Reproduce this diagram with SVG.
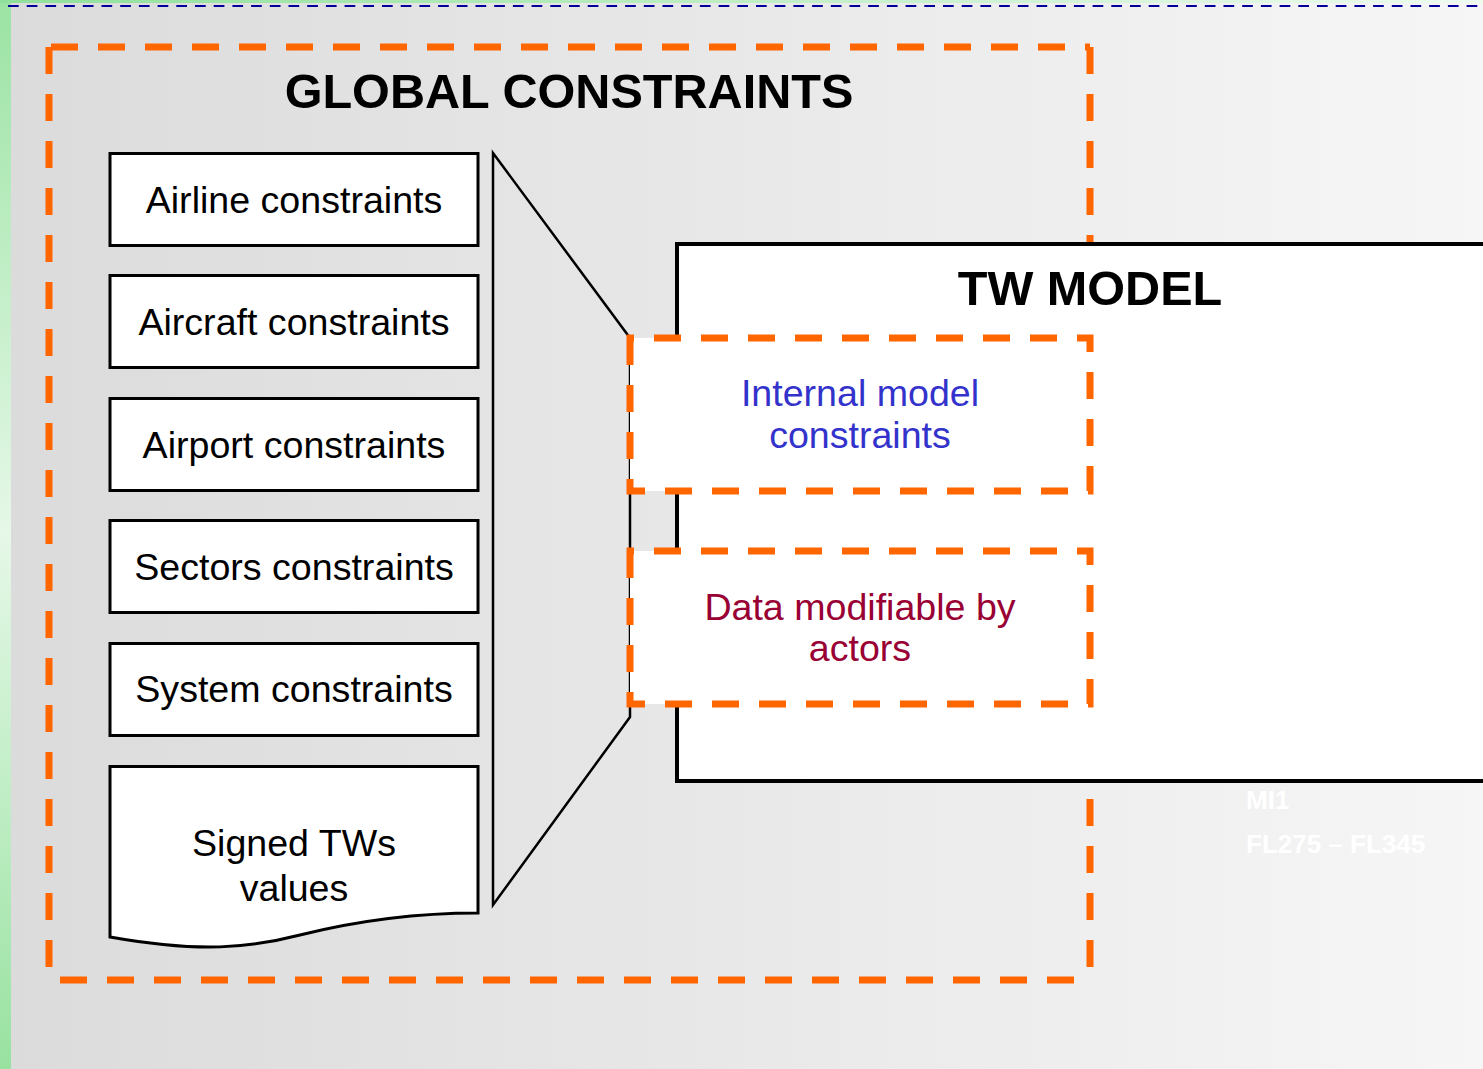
<svg xmlns="http://www.w3.org/2000/svg" width="1483" height="1069" viewBox="0 0 1483 1069">
<defs>
<linearGradient id="bg" x1="0" y1="0" x2="1" y2="0">
<stop offset="0" stop-color="#dbdbdb"/>
<stop offset="1" stop-color="#f6f6f6"/>
</linearGradient>
<linearGradient id="strip" x1="0" y1="0" x2="0" y2="1">
<stop offset="0" stop-color="#9be3a3"/>
<stop offset="0.5" stop-color="#e6f8e8"/>
<stop offset="1" stop-color="#98e2a0"/>
</linearGradient>
<linearGradient id="band" x1="0" y1="0" x2="1" y2="0">
<stop offset="0" stop-color="#8fe09a"/>
<stop offset="1" stop-color="#eefbef"/>
</linearGradient>
</defs>
<style>
.box{fill:#fff;stroke:#000;stroke-width:3}
.lbl{font-family:"Liberation Sans",Arial,sans-serif;font-size:37.6px;text-anchor:middle;fill:#000}
.title{font-family:"Liberation Sans",Arial,sans-serif;font-size:48.6px;font-weight:bold;text-anchor:middle;fill:#000}
.od{fill:none;stroke:#ff6600;stroke-width:7;stroke-dasharray:27 20}
.ghost{font-family:"Liberation Sans",Arial,sans-serif;font-size:26px;font-weight:bold;fill:#fff}
</style>
<rect x="0" y="0" width="1483" height="1069" fill="url(#bg)"/>
<rect x="0" y="0" width="11" height="1069" fill="url(#strip)"/>
<rect x="0" y="0" width="1483" height="3" fill="url(#band)"/>
<line x1="8" y1="6" x2="1483" y2="6" stroke="#000099" stroke-width="2" stroke-dasharray="10.7 8"/>

<g id="global-constraints">
<line class="od" x1="49" y1="47" x2="49" y2="980"/>
<line class="od" x1="51" y1="47" x2="1090" y2="47"/>
<line class="od" x1="60" y1="980" x2="1090" y2="980"/>
<line class="od" x1="1090" y1="47" x2="1090" y2="980"/>
<text class="title" x="569" y="108">GLOBAL CONSTRAINTS</text>
</g>

<g id="airline"><rect class="box" x="110" y="153.5" width="368" height="92"/><text class="lbl" x="294" y="213">Airline constraints</text></g>
<g id="aircraft"><rect class="box" x="110" y="275.5" width="368" height="92"/><text class="lbl" x="294" y="335">Aircraft constraints</text></g>
<g id="airport"><rect class="box" x="110" y="398.5" width="368" height="92"/><text class="lbl" x="294" y="458">Airport constraints</text></g>
<g id="sectors"><rect class="box" x="110" y="520.5" width="368" height="92"/><text class="lbl" x="294" y="580">Sectors constraints</text></g>
<g id="system"><rect class="box" x="110" y="643.5" width="368" height="92"/><text class="lbl" x="294" y="702">System constraints</text></g>
<g id="signed-tws">
<path class="box" d="M110,766.5 L478,766.5 L478,913 C420,913 360,920 300,935 C250,948 200,953 110,937 Z"/>
<text class="lbl" x="294" y="856">Signed TWs</text>
<text class="lbl" x="294" y="901">values</text>
</g>

<g id="connectors">
<polygon points="493,153 630,338 630,717 493,905" fill="none" stroke="#000" stroke-width="2.5"/>
</g>

<g id="tw-model">
<rect x="677" y="244" width="820" height="537" fill="#fff" stroke="#000" stroke-width="4"/>
<text class="title" x="1090" y="305">TW MODEL</text>
</g>

<g id="internal-model">
<rect x="630" y="338" width="460" height="153" fill="#fff"/>
<path class="od" d="M630,338 V491 H1090 V338 Z"/>
<text class="lbl" x="860" y="406" style="fill:#3333cc">Internal model</text>
<text class="lbl" x="860" y="448" style="fill:#3333cc">constraints</text>
</g>

<g id="data-modifiable">
<rect x="630" y="551" width="460" height="153" fill="#fff"/>
<path class="od" d="M630,551 V704 H1090 V551 Z"/>
<text class="lbl" x="860" y="620" style="fill:#990033">Data modifiable by</text>
<text class="lbl" x="860" y="661" style="fill:#990033">actors</text>
</g>

<g id="ghost-labels">
<text class="ghost" x="1246" y="809">MI1</text>
<text class="ghost" x="1246" y="853">FL275 – FL345</text>
</g>
</svg>
